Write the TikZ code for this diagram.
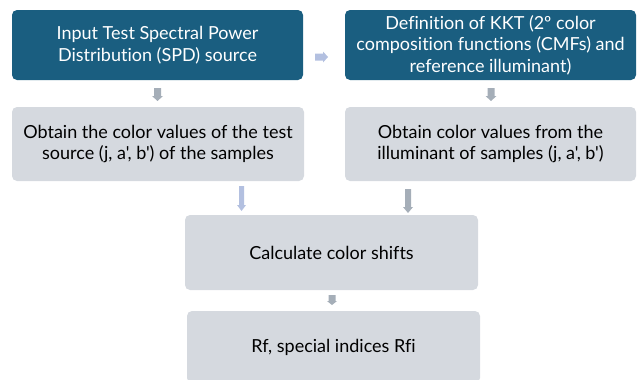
\documentclass[tikz,border=0pt]{standalone}
\usepackage{fontspec}
\newfontfamily\boxfont{Lato}[Ligatures=NoCommon]
\definecolor{darkbox}{HTML}{1A5E80}
\definecolor{lightbox}{HTML}{D5D9DF}
\definecolor{arrgray}{HTML}{A5AEB8}
\definecolor{arrlav}{HTML}{B3C0E0}
\tikzset{
  dbox/.style={fill=darkbox, rounded corners=5pt, text=white, align=center, font=\boxfont\fontsize{18}{21.5}\selectfont, inner sep=0pt},
  lbox/.style={fill=lightbox, rounded corners=5pt, text=black, align=center, font=\boxfont\fontsize{18}{21.5}\selectfont, inner sep=0pt},
  pics/darrow/.style n args={4}{code={
    \fill (-#2/2,0) -- (#2/2,0) -- (#2/2,#1-#4) -- (#3/2,#1-#4) -- (0,#1) -- (-#3/2,#1-#4) -- (-#2/2,#1-#4) -- cycle;}},
  pics/rarrow/.style n args={4}{code={
    \fill (0,-#2/2) -- (0,#2/2) -- (#1-#4,#2/2) -- (#1-#4,#3/2) -- (#1,0) -- (#1-#4,-#3/2) -- (#1-#4,-#2/2) -- cycle;}}
}
\begin{document}
\begin{tikzpicture}[x=1pt,y=-1pt]
\useasboundingbox (0,0) rectangle (638,380);
\begin{scope}
\clip (0,0) rectangle (638,380);
\node[dbox, minimum width=291pt, minimum height=70pt] (b1) at (157.5,45) {Input Test Spectral Power\\Distribution (SPD) source};
\node[dbox, minimum width=291pt, minimum height=70pt] (b2) at (490.5,45) {Definition of KKT (2º color\\composition functions (CMFs) and\\reference illuminant)};
\node[lbox, minimum width=292pt, minimum height=74pt] (b3) at (158,144) {Obtain the color values of the test\\source (j, a', b') of the samples};
\node[lbox, minimum width=291pt, minimum height=74pt] (b4) at (490.5,144) {Obtain color values from the\\illuminant of samples (j, a', b')};
\node[lbox, minimum width=293pt, minimum height=75pt] (b5) at (331.5,252.5) {Calculate color shifts};
\node[lbox, minimum width=293pt, minimum height=72pt] (b6) at (333.5,347) {Rf, special indices Rfi};
\end{scope}
\pic[fill=arrlav] at (315,57) {rarrow={13}{7}{11}{5}};
\pic[fill=arrgray] at (157.5,88) {darrow={13}{7}{11}{5}};
\pic[fill=arrgray] at (491,88) {darrow={13}{7}{11}{5}};
\pic[fill=arrlav] at (241.5,186) {darrow={25}{5}{9}{6}};
\pic[fill=arrgray] at (408,189) {darrow={24}{6}{10}{6}};
\pic[fill=arrgray] at (332,295) {darrow={10}{7}{10}{4}};
\end{tikzpicture}
\end{document}
